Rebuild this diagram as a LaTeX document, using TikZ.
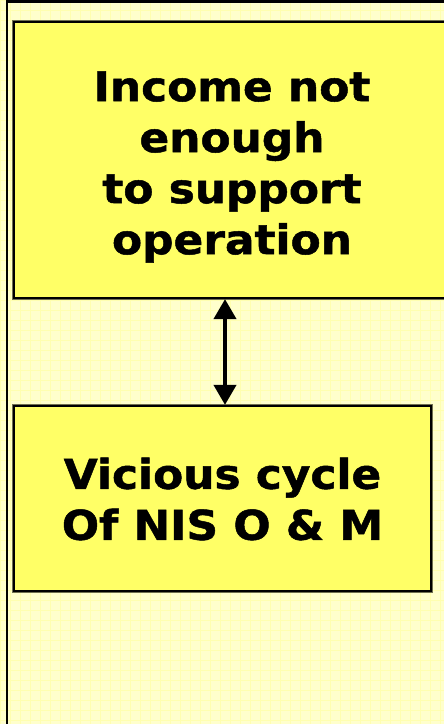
\documentclass[tikz,border=0pt]{standalone}
\usepackage{fontspec}
\setmainfont{DejaVu Sans}
\newfontfamily\boxfont[FakeStretch=1.07,BoldFeatures={FakeBold=1.2}]{DejaVu Sans}
\usetikzlibrary{arrows.meta}
\definecolor{bgyellow}{HTML}{FFFFCC}
\definecolor{gridyellow}{HTML}{FFFFB0}
\definecolor{boxyellow}{HTML}{FFFF66}
\definecolor{edgegray}{HTML}{707050}
\tikzset{
  box/.style={draw=black, line width=2.2pt, fill=boxyellow, inner sep=0pt,
    preaction={draw=edgegray, line width=3.6pt}},
  boxtext/.style={inner sep=0pt, align=center, font=\boxfont\fontsize{41}{51}\selectfont\bfseries},
  link/.style={line width=4pt, {Triangle[width=22pt,length=20pt]}-{Triangle[width=22pt,length=20pt]}}
}
\begin{document}
\begin{tikzpicture}[x=1pt,y=-1pt]
\useasboundingbox (0,0) rectangle (444,724);
\clip (0,0) rectangle (444,724);
\fill[bgyellow] (0,0) rectangle (444,724);
\draw[gridyellow, line width=0.5pt, step=10pt] (0,0) grid (444,724);
\draw[line width=2.5pt] (7,730) -- (7,1.5) -- (450,1.5);
\node[box, minimum width=436pt, minimum height=276pt] (top) at (232,160) {};
\node[boxtext] (toptext) at (232,167) {Income not\\ enough\\ to support\\ operation};
\node[box, minimum width=417pt, minimum height=185pt] (bot) at (222.5,498.5) {};
\node[boxtext] (bottext) at (222.5,499) {Vicious cycle\\ Of NIS O \& M};
\draw[link] (top.south -| 225,0) -- (bot.north -| 225,0);
\end{tikzpicture}
\end{document}
